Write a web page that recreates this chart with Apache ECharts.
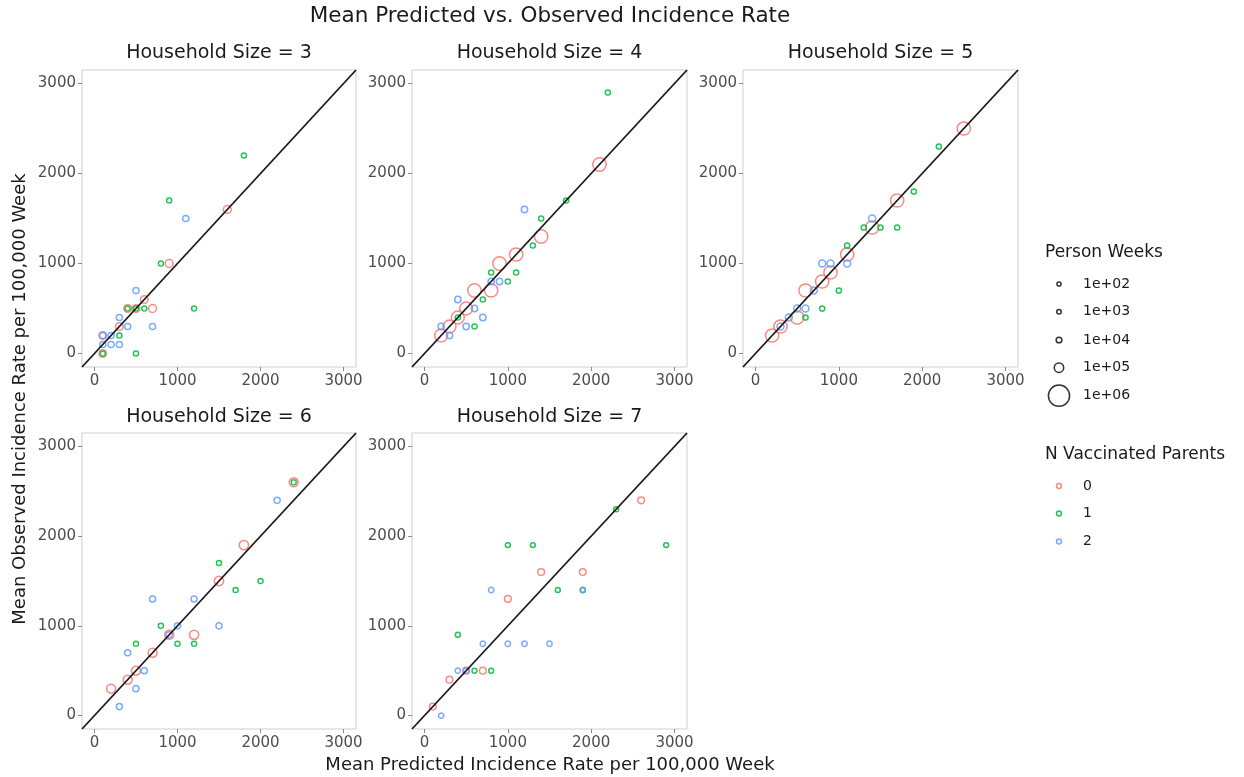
<!DOCTYPE html>
<html>
<head>
<meta charset="utf-8">
<script src="https://cdn.jsdelivr.net/npm/echarts@6/dist/echarts.min.js"></script>
<style>html,body{margin:0;padding:0;background:#fff}#c{width:1244px;height:777px}</style>
</head>
<body>
<div id="c"></div>
<script>
// ---- data: [predicted, observed, person weeks] ----
const panelTitles = ["Household Size = 3","Household Size = 4","Household Size = 5","Household Size = 6","Household Size = 7"];
const tickValues = [0, 1000, 2000, 3000];
const groupNames = ["0","1","2"];
const sizeBreaks = [1e2, 1e3, 1e4, 1e5, 1e6];
const sizeBreakLabels = ["1e+02","1e+03","1e+04","1e+05","1e+06"];

const hh3_v0 = [[1600,1600,5e4],[900,1000,5e4],[600,600,4.5e4],[700,500,5e4],[400,500,4.5e4],[500,500,4.5e4],[300,300,4.5e4],[100,200,4.5e4],[100,0,4e4]];
const hh3_v1 = [[1800,2200,4e3],[900,1700,4e3],[800,1000,4e3],[1200,500,4e3],[400,500,4e3],[500,500,4e3],[600,500,4e3],[300,200,4e3],[100,0,4e3],[500,0,4e3]];
const hh3_v2 = [[1100,1500,1.5e4],[500,700,1.5e4],[300,400,1.5e4],[400,300,1.5e4],[700,300,1.5e4],[100,200,1.5e4],[200,200,1.5e4],[100,100,1.5e4],[200,100,1.5e4],[300,100,1.5e4]];

const hh4_v0 = [[2100,2100,3e5],[1400,1300,3e5],[1100,1100,2.9e5],[900,1000,3e5],[600,700,3e5],[800,700,2.9e5],[500,500,2.7e5],[400,400,2.7e5],[300,300,2.7e5],[200,200,2.7e5]];
const hh4_v1 = [[2200,2900,4e3],[1700,1700,4e3],[1400,1500,4e3],[1300,1200,4e3],[800,900,4e3],[1100,900,4e3],[1000,800,4e3],[700,600,4e3],[400,400,4e3],[600,300,4e3]];
const hh4_v2 = [[1200,1600,1.8e4],[800,800,1.8e4],[900,800,1.8e4],[400,600,1.8e4],[600,500,1.8e4],[700,400,1.8e4],[200,300,1.8e4],[500,300,1.8e4],[300,200,1.8e4]];

const hh5_v0 = [[2500,2500,2.9e5],[1700,1700,2.9e5],[1400,1400,2.9e5],[1100,1100,2.9e5],[900,900,2.9e5],[800,800,2.9e5],[600,700,2.9e5],[500,400,2.9e5],[300,300,2.9e5],[200,200,2.9e5]];
const hh5_v1 = [[2200,2300,5e3],[1900,1800,5e3],[1300,1400,5e3],[1500,1400,5e3],[1700,1400,5e3],[1100,1200,5e3],[1000,700,5e3],[800,500,5e3],[600,400,5e3]];
const hh5_v2 = [[1400,1500,3e4],[800,1000,3e4],[900,1000,3e4],[1100,1000,3e4],[700,700,3e4],[500,500,3e4],[600,500,3e4],[400,400,3e4],[300,300,3e4]];

const hh6_v0 = [[2400,2600,8.5e4],[1800,1900,9.5e4],[1500,1500,9.5e4],[900,900,8.5e4],[1200,900,9.5e4],[700,700,8.5e4],[500,500,8.5e4],[400,400,8.5e4],[200,300,8.5e4]];
const hh6_v1 = [[2400,2600,4e3],[1500,1700,4e3],[2000,1500,4e3],[1700,1400,4e3],[800,1000,4e3],[500,800,4e3],[1000,800,4e3],[1200,800,4e3]];
const hh6_v2 = [[2200,2400,1.5e4],[700,1300,1.5e4],[1200,1300,1.5e4],[1000,1000,1.5e4],[1500,1000,1.5e4],[900,900,1.5e4],[400,700,1.5e4],[600,500,1.5e4],[500,300,1.5e4],[300,100,1.5e4]];

const hh7_v0 = [[2600,2400,2.5e4],[1400,1600,2.5e4],[1900,1600,2.5e4],[1000,1300,2.5e4],[500,500,2.5e4],[700,500,2.5e4],[300,400,2.5e4],[100,100,2.5e4]];
const hh7_v1 = [[2300,2300,3e3],[2900,1900,3e3],[1000,1900,3e3],[1300,1900,3e3],[1600,1400,3e3],[1900,1400,3e3],[400,900,3e3],[600,500,3e3],[800,500,3e3]];
const hh7_v2 = [[800,1400,6e3],[1900,1400,6e3],[700,800,6e3],[1000,800,6e3],[1200,800,6e3],[1500,800,6e3],[400,500,6e3],[500,500,6e3],[200,0,6e3]];

const panels = [
  [hh3_v0, hh3_v1, hh3_v2],
  [hh4_v0, hh4_v1, hh4_v2],
  [hh5_v0, hh5_v1, hh5_v2],
  [hh6_v0, hh6_v1, hh6_v2],
  [hh7_v0, hh7_v1, hh7_v2]
];

// ---- styling / layout ----
const FONT = "DejaVu Sans";
const colors = ["#F8766D", "#00BA38", "#619CFF"];
const BW = 1.5;
function outerDiam(pw){ return 5.5 + 0.01717 * Math.sqrt(pw); }

const gridBoxes = [
  {left: 82, top: 70, width: 274, height: 297},
  {left: 412, top: 70, width: 275, height: 297},
  {left: 743, top: 70, width: 275, height: 297},
  {left: 82, top: 433, width: 274, height: 296},
  {left: 412, top: 433, width: 275, height: 296}
];

const grid = [], xAxis = [], yAxis = [], series = [];
gridBoxes.forEach((g, i) => {
  grid.push(Object.assign({show: true, borderColor: "#cfcfcf", borderWidth: 1, backgroundColor: "transparent", containLabel: false}, g));
  const ax = {
    type: "value", gridIndex: i, min: -150, max: 3150,
    splitLine: {show: false},
    axisLine: {show: false, onZero: false},
    axisTick: {show: true, length: 4, lineStyle: {color: "#8a8a8a", width: 1}, customValues: tickValues},
    axisLabel: {customValues: tickValues, fontSize: 15, color: "#4d4d4d", fontFamily: FONT, formatter: v => String(v)}
  };
  xAxis.push(Object.assign({}, ax, {axisLabel: Object.assign({}, ax.axisLabel, {margin: 7})}));
  yAxis.push(Object.assign({}, ax, {axisLabel: Object.assign({}, ax.axisLabel, {margin: 6})}));
  series.push({
    type: "line", xAxisIndex: i, yAxisIndex: i, silent: true, showSymbol: false, symbol: "none",
    data: [[-150, -150], [3150, 3150]],
    lineStyle: {color: "#1a1a1a", width: 1.8}, z: 3
  });
  panels[i].forEach((arr, k) => {
    series.push({
      type: "scatter", name: groupNames[k], xAxisIndex: i, yAxisIndex: i,
      data: arr,
      symbol: "circle",
      symbolSize: v => outerDiam(v[2]) - BW,
      itemStyle: {color: "rgba(0,0,0,0)", borderColor: colors[k], borderWidth: BW, opacity: 0.85},
      z: 2
    });
  });
});

// ---- text & legend via graphic ----
function txt(x, y, text, size, opts) {
  return Object.assign({
    type: "text", x: x, y: y, silent: true,
    style: {text: text, fontSize: size, fontFamily: FONT, fill: "#1a1a1a",
            align: "center", verticalAlign: "middle", textAlign: "center", textVerticalAlign: "middle"}
  }, opts || {});
}
const graphic = [];
graphic.push(txt(550, 16, "Mean Predicted vs. Observed Incidence Rate", 21.5));
const stripY = [53, 53, 53, 417, 417];
gridBoxes.forEach((g, i) => graphic.push(txt(g.left + g.width / 2, stripY[i], panelTitles[i], 19)));
graphic.push(txt(550, 765, "Mean Predicted Incidence Rate per 100,000 Week", 18));
graphic.push(Object.assign(txt(0, 0, "Mean Observed Incidence Rate per 100,000 Week", 18), {x: 20, y: 399, rotation: Math.PI / 2}));

function leftTxt(x, y, text, size) {
  const t = txt(x, y, text, size);
  t.style.align = "left"; t.style.textAlign = "left";
  return t;
}
graphic.push(leftTxt(1045, 253, "Person Weeks", 17));
const sizeY = [284, 311.7, 340, 367.7, 395.7];
sizeBreaks.forEach((b, j) => {
  graphic.push({type: "circle", silent: true, shape: {cx: 1059, cy: sizeY[j], r: (outerDiam(b) - BW) / 2},
    style: {fill: "none", stroke: "#333333", lineWidth: BW}});
  graphic.push(leftTxt(1083, sizeY[j], sizeBreakLabels[j], 14));
});
graphic.push(leftTxt(1045, 455, "N Vaccinated Parents", 17));
const colY = [486, 513.5, 541.5];
groupNames.forEach((n, j) => {
  graphic.push({type: "circle", silent: true, shape: {cx: 1059, cy: colY[j], r: (outerDiam(3e3) - BW) / 2},
    style: {fill: "none", stroke: colors[j], lineWidth: BW, opacity: 0.85}});
  graphic.push(leftTxt(1083, colY[j], n, 14));
});

const chart = echarts.init(document.getElementById("c"), null, {renderer: "canvas"});
chart.setOption({
  animation: false,
  backgroundColor: "#ffffff",
  textStyle: {fontFamily: FONT},
  grid: grid, xAxis: xAxis, yAxis: yAxis, series: series, graphic: graphic
});
</script>
</body>
</html>
